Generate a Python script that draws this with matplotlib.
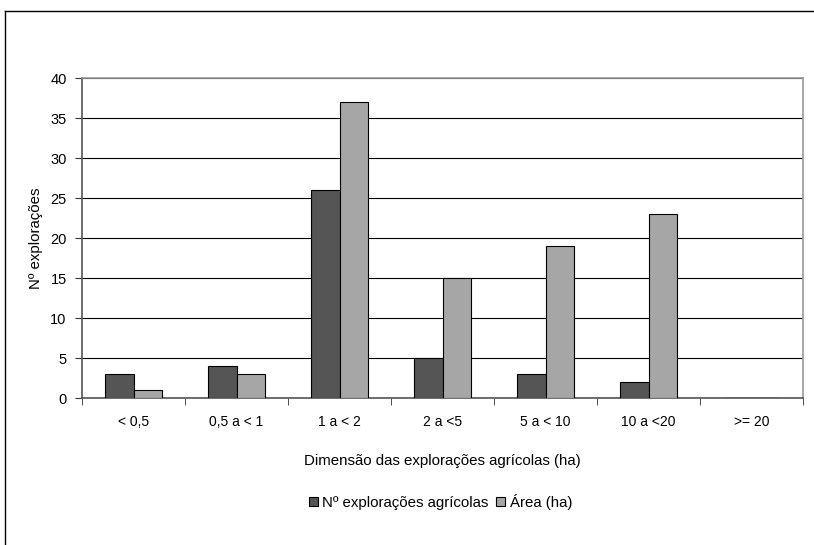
import numpy as np
import matplotlib
matplotlib.use("Agg")
import matplotlib.pyplot as plt
from matplotlib.lines import Line2D

plt.rcParams['font.family'] = ['Liberation Sans', 'DejaVu Sans']

# Dados
categorias = ['< 0,5', '0,5 a < 1', '1 a < 2', '2 a <5', '5 a < 10', '10 a <20', '>= 20']
n_exploracoes = [3, 4, 26, 5, 3, 2, 0]
area_ha = [1, 3, 37, 15, 19, 23, 0]

fig = plt.figure(figsize=(8.14, 5.45), dpi=100)
ax = fig.add_axes([82 / 814, 1 - 398 / 545, (803 - 82) / 814, (398 - 78) / 545])

x = np.arange(len(categorias))
w = 0.28
ax.bar(x - w / 2, n_exploracoes, w, color='#555555', edgecolor='black', linewidth=0.8,
       label='Nº explorações agrícolas', zorder=3)
ax.bar(x + w / 2, area_ha, w, color='#a6a6a6', edgecolor='black', linewidth=0.8,
       label='Área (ha)', zorder=3)

ax.set_xlim(-0.5, len(categorias) - 0.5)
ax.set_ylim(0, 40)
ax.set_yticks(range(0, 41, 5))
ax.yaxis.grid(True, color='black', linewidth=0.8, zorder=0)
ax.set_axisbelow(True)

ax.set_xticks(x)
ax.set_xticklabels(categorias, fontsize=10)
ax.set_xticks(np.arange(-0.5, len(categorias)), minor=True)
ax.tick_params(axis='x', which='major', length=0, pad=12)
ax.tick_params(axis='x', which='minor', length=5, color='#333333', direction='out')
ax.tick_params(axis='y', labelsize=10.5, length=5, color='#333333', pad=6)

for s in ax.spines.values():
    s.set_color('#999999')
    s.set_linewidth(1.2)
ax.spines['left'].set_color('#555555')
ax.spines['bottom'].set_color('#555555')

ax.set_xlabel('Dimensão das explorações agrícolas (ha)', fontsize=10.8, labelpad=18)
ax.set_ylabel('Nº explorações', fontsize=10.8, labelpad=5)

ax.legend(loc='center', bbox_to_anchor=(0.497, -(502 - 398) / 320), ncol=2, frameon=False,
          fontsize=10.8, handlelength=0.6, handleheight=0.6, handletextpad=0.3,
          columnspacing=0.5)

# moldura exterior
fig.add_artist(Line2D([5 / 814, 5 / 814], [0, 1 - 11 / 545], color='black', linewidth=1))
fig.add_artist(Line2D([5 / 814, 1], [1 - 11 / 545, 1 - 11 / 545], color='black', linewidth=1))

fig.savefig('out.png', dpi=100)
